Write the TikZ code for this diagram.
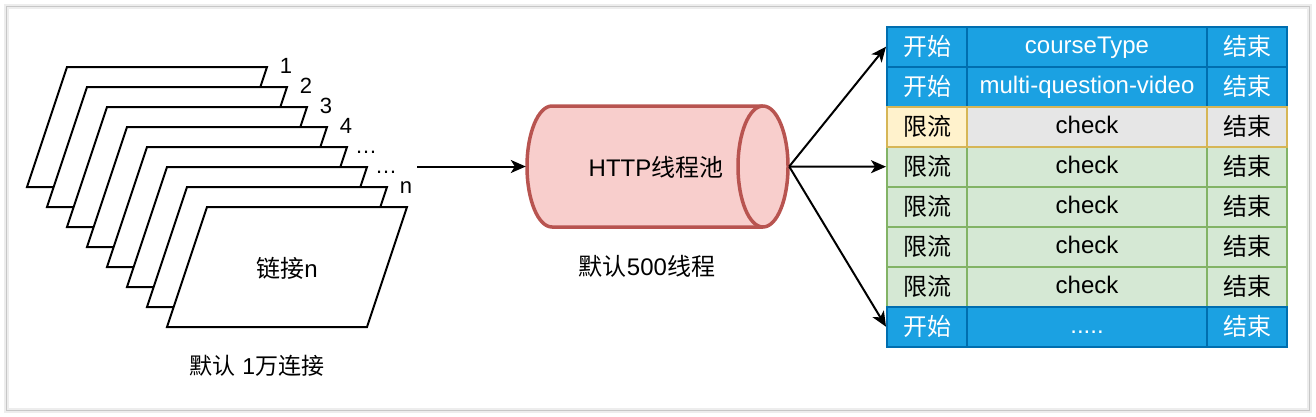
\documentclass[tikz,border=0pt]{standalone}
\usepackage{fontspec}
\setmainfont{Liberation Sans}
\newfontfamily\cjk{Noto Sans CJK SC}
\usetikzlibrary{arrows.meta}
\newcommand\zhtxt[1]{{\cjk #1}}
\newcommand\zhcell[1]{\raisebox{-2pt}{\cjk #1}}
\definecolor{bluefill}{HTML}{1BA1E2}
\definecolor{bluestroke}{HTML}{006EAF}
\definecolor{yelfill}{HTML}{FFF2CC}
\definecolor{yelstroke}{HTML}{D6B656}
\definecolor{grayfill}{HTML}{E6E6E6}
\definecolor{greenfill}{HTML}{D5E8D4}
\definecolor{greenstroke}{HTML}{82B366}
\definecolor{redfill}{HTML}{F8CECC}
\definecolor{redstroke}{HTML}{B85450}
\begin{document}
\begin{tikzpicture}[x=1pt,y=-1pt,
  big/.style={font=\fontsize{24}{28}\selectfont},
  mid/.style={font=\fontsize{22}{26}\selectfont},
  para/.style={draw=black,fill=white,line width=2pt,line join=miter},
  cell/.style={draw,line width=2pt,inner sep=0pt,minimum height=40pt,big,text height=18.4pt,text depth=5pt},
  narrow/.style={cell,minimum width=80pt},
  wide/.style={cell,minimum width=240pt},
  bluec/.style={fill=bluefill,draw=bluestroke,text=white},
  greenc/.style={fill=greenfill,draw=greenstroke,text=black},
  arr/.style={line width=2pt,-{Stealth[length=15pt,width=13pt,inset=4pt]}},
]
\useasboundingbox (0,0) rectangle (1316,416);
% frame
\draw[black!7,line width=5pt] (6,6) rectangle (1309,410);
\draw[black!22,line width=1pt] (6,6) rectangle (1309,410);

% stacked connections
\foreach \i in {0,...,7}{
  \draw[para] ({67+20*\i},{67+20*\i}) -- ++(200,0) -- ++(-40,120) -- ++(-200,0) -- cycle;
}
\foreach \t/\k in {1/0,2/1,3/2,4/3,…/4,…/5,n/6}{
  \node[mid,anchor=base,inner sep=0pt] (lab\k) at ({286+20*\k},{73+20*\k}) {\t};
}
\node[big] (connn) at (287,268) {\zhtxt{链接}n};
\node[font=\fontsize{23}{27}\selectfont] (conncap) at (257,366) {\zhtxt{默认} 1\zhtxt{万连接}};

% cylinder
\draw[fill=redfill,draw=redstroke,line width=3.5pt]
  (552,106) -- (763,106) arc[start angle=-90,end angle=90,x radius=25,y radius=60.5]
  -- (552,227) arc[start angle=90,end angle=270,x radius=25,y radius=60.5] -- cycle;
\draw[draw=redstroke,line width=3.5pt] (763,106) arc[start angle=270,end angle=90,x radius=25,y radius=60.5];
\node[minimum width=263pt,minimum height=121pt,inner sep=0pt] (pool) at (657.5,166.5) {};
\node[big] (pooltxt) at (656,167) {HTTP\zhtxt{线程池}};
\node[big] (poolcap) at (647,266) {\zhtxt{默认}500\zhtxt{线程}};

% table
\node[narrow,bluec] (r1a) at (927,46.7) {\zhcell{开始}};
\node[wide,bluec] (r1b) at (1087,46.7) {courseType};
\node[narrow,bluec] (r1c) at (1247,46.7) {\zhcell{结束}};
\node[narrow,bluec] (r2a) at (927,86.7) {\zhcell{开始}};
\node[wide,bluec] (r2b) at (1087,86.7) {multi-question-video};
\node[narrow,bluec] (r2c) at (1247,86.7) {\zhcell{结束}};
\foreach \r/\y in {4/166.7,5/206.7,6/246.7,7/286.7}{
  \node[narrow,greenc] (r\r a) at (927,\y) {\zhcell{限流}};
  \node[wide,greenc] (r\r b) at (1087,\y) {check};
  \node[narrow,greenc] (r\r c) at (1247,\y) {\zhcell{结束}};
}
\node[narrow,fill=yelfill,draw=yelstroke] (r3a) at (927,126.7) {\zhcell{限流}};
\node[wide,fill=grayfill,draw=yelstroke] (r3b) at (1087,126.7) {check};
\node[narrow,fill=grayfill,draw=yelstroke] (r3c) at (1247,126.7) {\zhcell{结束}};
\node[narrow,bluec] (r8a) at (927,326.7) {\zhcell{开始}};
\node[wide,bluec] (r8b) at (1087,326.7) {.....};
\node[narrow,bluec] (r8c) at (1247,326.7) {\zhcell{结束}};

% arrows
\coordinate (src) at (417,166.5);
\draw[arr] (src) -- (pool.west);
\draw[arr] (pool.east) -- (r1a.west);
\draw[arr] (pool.east) -- (r4a.west);
\draw[arr] (pool.east) -- (r8a.west);
\end{tikzpicture}
\end{document}
